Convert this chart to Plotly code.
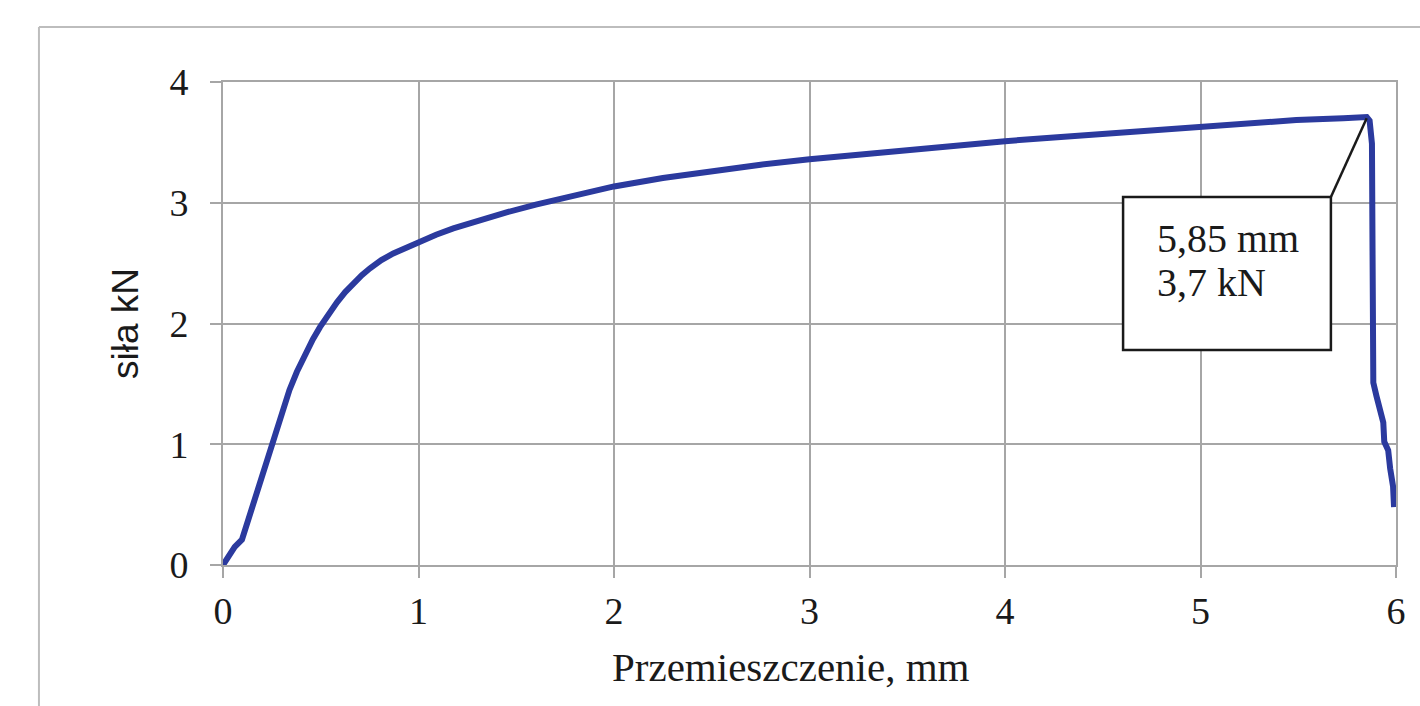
import plotly.graph_objects as go

# displacement (mm) and force (kN)
displacement = [0, 0.03, 0.06, 0.097, 0.13, 0.17, 0.2, 0.225, 0.26, 0.30, 0.34, 0.378, 0.42, 0.46,
                0.496, 0.54, 0.583, 0.625, 0.667, 0.71, 0.752, 0.81, 0.871, 0.93, 1.008, 1.09, 1.178,
                1.3, 1.45, 1.6, 1.8, 2.0, 2.25, 2.5, 2.75, 3.0, 3.25, 3.5, 3.75,
                4.0, 4.25, 4.5, 4.75, 5.0, 5.27, 5.49, 5.73, 5.85,
                5.865, 5.877, 5.88, 5.884, 5.9, 5.92, 5.935, 5.94, 5.96, 5.97, 5.985, 5.99]
force = [0, 0.08, 0.15, 0.21, 0.38, 0.6, 0.75, 0.886, 1.07, 1.27, 1.45, 1.60, 1.75, 1.87,
         1.97, 2.08, 2.175, 2.26, 2.333, 2.40, 2.457, 2.525, 2.58, 2.625, 2.677, 2.735, 2.788,
         2.85, 2.92, 2.985, 3.065, 3.135, 3.205, 3.265, 3.315, 3.36, 3.40, 3.44, 3.475,
         3.51, 3.54, 3.57, 3.605, 3.635, 3.665, 3.685, 3.70, 3.71,
         3.68, 3.49, 2.6, 1.51, 1.4, 1.26, 1.18, 1.02, 0.95, 0.8, 0.65, 0.48]

x_ticks = [0, 1, 2, 3, 4, 5, 6]
y_ticks = [0, 1, 2, 3, 4]

peak_x = 5.85
peak_y = 3.70
callout_lines = ["5,85 mm", "3,7 kN"]

grid = "#A6A6A6"
ink = "#1a1a1a"
serif = "Liberation Serif, Times New Roman, serif"
sans = "Liberation Sans, Arial, sans-serif"

fig = go.Figure()
fig.add_trace(go.Scatter(x=displacement, y=force, mode="lines",
                         line=dict(color="#2B3A9E", width=6), hoverinfo="skip",
                         showlegend=False))

# callout box and leader line
bx0, bx1, by0, by1 = 4.604, 5.667, 1.78, 3.048
fig.add_shape(type="rect", x0=bx0, x1=bx1, y0=by0, y1=by1, xref="x", yref="y",
              line=dict(color=ink, width=2.5), fillcolor="white", layer="above")
fig.add_shape(type="line", x0=bx1, y0=by1, x1=peak_x, y1=peak_y, xref="x", yref="y",
              line=dict(color=ink, width=2.5), layer="above")
for txt, ty in zip(callout_lines, [2.70, 2.34]):
    fig.add_annotation(x=4.767, y=ty, xref="x", yref="y", xanchor="left", yanchor="middle",
                       text=txt, showarrow=False, align="left",
                       font=dict(family=serif, size=40, color=ink))

# x axis title (placed as in the reference)
fig.add_annotation(x=0.4842, y=-0.211, xref="paper", yref="paper", xanchor="center",
                   yanchor="middle", text="Przemieszczenie, mm", showarrow=False,
                   font=dict(family=serif, size=41, color=ink))

# outer frame
fig.add_shape(type="line", xref="paper", yref="paper", x0=-0.1569, x1=-0.1569, y0=1.1139, y1=-0.5,
              line=dict(color="#BDBDBD", width=2))
fig.add_shape(type="line", xref="paper", yref="paper", x0=-0.1569, x1=1.2, y0=1.1139, y1=1.1139,
              line=dict(color="#BDBDBD", width=2))

fig.update_layout(
    width=1420, height=706,
    margin=dict(l=223, r=24, t=82, b=141),
    paper_bgcolor="white", plot_bgcolor="white",
    xaxis=dict(range=[0, 6], tickvals=x_ticks, ticktext=[str(v) for v in x_ticks],
               showgrid=True, gridcolor=grid, gridwidth=2, zeroline=False,
               ticks="outside", ticklen=11, tickwidth=2, tickcolor=grid,
               showline=True, mirror=True, linecolor=grid, linewidth=2,
               ticklabelstandoff=0,
               tickfont=dict(family=serif, size=38, color=ink)),
    yaxis=dict(range=[0, 4], tickvals=y_ticks, ticktext=[str(v) for v in y_ticks],
               showgrid=True, gridcolor=grid, gridwidth=2, zeroline=False,
               ticks="outside", ticklen=11, tickwidth=2, tickcolor=grid,
               showline=True, mirror=True, linecolor=grid, linewidth=2,
               ticklabelstandoff=14,
               tickfont=dict(family=serif, size=38, color=ink),
               title=dict(text="siła kN", standoff=19,
                          font=dict(family=sans, size=37, color=ink))),
)
fig.write_html("out.html")
